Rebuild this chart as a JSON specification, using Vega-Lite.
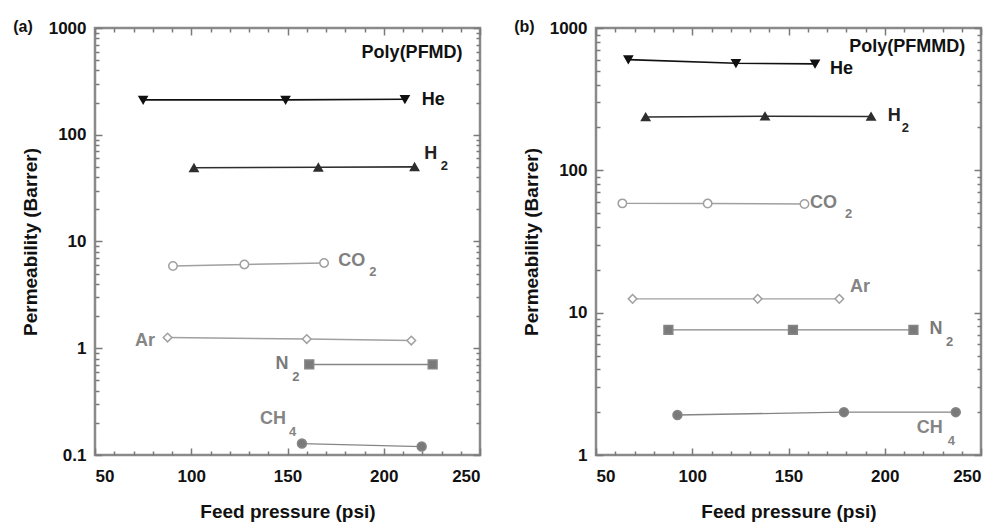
{
  "$schema": "https://vega.github.io/schema/vega-lite/v6.json",
  "background": "white",
  "padding": {"left": 11, "top": 17, "right": 5, "bottom": 0},
  "spacing": 116,
  "bounds": "flush",
  "config": {
    "font": "Liberation Sans",
    "view": {"stroke": "#8a8a8a", "strokeWidth": 2.5},
    "axis": {"labelFont": "Liberation Sans", "labelFontWeight": "bold", "labelFontSize": 17, "labelColor": "#111", "titleFont": "Liberation Sans", "titleFontWeight": "bold", "titleFontSize": 19, "titleColor": "#111", "tickColor": "#7a7a7a", "tickWidth": 1.5, "domain": false, "grid": false},
    "text": {"font": "Liberation Sans", "fontWeight": "bold"}
  },
  "datasets": {
    "a_pts": [
      {"gas": "He", "p": 75, "perm": 212}, {"gas": "He", "p": 149, "perm": 212}, {"gas": "He", "p": 211, "perm": 215},
      {"gas": "H2", "p": 101.4, "perm": 49}, {"gas": "H2", "p": 166, "perm": 49.5}, {"gas": "H2", "p": 216, "perm": 50},
      {"gas": "CO2", "p": 90.5, "perm": 5.9}, {"gas": "CO2", "p": 127.6, "perm": 6.1}, {"gas": "CO2", "p": 169, "perm": 6.3},
      {"gas": "Ar", "p": 87.7, "perm": 1.26}, {"gas": "Ar", "p": 160, "perm": 1.22}, {"gas": "Ar", "p": 214.3, "perm": 1.18},
      {"gas": "N2", "p": 161.3, "perm": 0.705}, {"gas": "N2", "p": 225.4, "perm": 0.705},
      {"gas": "CH4", "p": 157.5, "perm": 0.128}, {"gas": "CH4", "p": 219.7, "perm": 0.12}
    ],
    "b_pts": [
      {"gas": "He", "p": 66.8, "perm": 600}, {"gas": "He", "p": 122.7, "perm": 565}, {"gas": "He", "p": 163.8, "perm": 560},
      {"gas": "H2", "p": 75.8, "perm": 237}, {"gas": "H2", "p": 137.8, "perm": 240}, {"gas": "H2", "p": 192.9, "perm": 239},
      {"gas": "CO2", "p": 63.7, "perm": 58.6}, {"gas": "CO2", "p": 108, "perm": 58.4}, {"gas": "CO2", "p": 158.3, "perm": 58},
      {"gas": "Ar", "p": 69, "perm": 12.5}, {"gas": "Ar", "p": 134, "perm": 12.5}, {"gas": "Ar", "p": 176.4, "perm": 12.5},
      {"gas": "N2", "p": 87.6, "perm": 7.57}, {"gas": "N2", "p": 152.3, "perm": 7.57}, {"gas": "N2", "p": 214.9, "perm": 7.57},
      {"gas": "CH4", "p": 92.3, "perm": 1.91}, {"gas": "CH4", "p": 178.8, "perm": 2.0}, {"gas": "CH4", "p": 236.9, "perm": 2.0}
    ],
    "a_lab": [
      {"gas": "Poly", "p": 188.5, "perm": 583, "label": "Poly(PFMD)"},
      {"gas": "He", "p": 219.7, "perm": 213, "label": "He"},
      {"gas": "H2", "p": 221, "perm": 65.5, "label": "H"},
      {"gas": "CO2", "p": 176.4, "perm": 6.6, "label": "CO"},
      {"gas": "Ar", "p": 70.8, "perm": 1.18, "label": "Ar"},
      {"gas": "N2", "p": 143.8, "perm": 0.705, "label": "N"},
      {"gas": "CH4", "p": 135.7, "perm": 0.218, "label": "CH"}
    ],
    "a_sub": [
      {"gas": "H2", "p": 229.6, "perm": 51, "label": "2"},
      {"gas": "CO2", "p": 192.5, "perm": 5.13, "label": "2"},
      {"gas": "N2", "p": 152.5, "perm": 0.543, "label": "2"},
      {"gas": "CH4", "p": 150.8, "perm": 0.164, "label": "4"}
    ],
    "b_lab": [
      {"gas": "Poly", "p": 181.6, "perm": 733, "label": "Poly(PFMMD)"},
      {"gas": "He", "p": 171.6, "perm": 514, "label": "He"},
      {"gas": "H2", "p": 201.5, "perm": 239, "label": "H"},
      {"gas": "CO2", "p": 161.2, "perm": 58.6, "label": "CO"},
      {"gas": "Ar", "p": 182, "perm": 15.2, "label": "Ar"},
      {"gas": "N2", "p": 223.2, "perm": 7.62, "label": "N"},
      {"gas": "CH4", "p": 216.6, "perm": 1.54, "label": "CH"}
    ],
    "b_sub": [
      {"gas": "H2", "p": 208.8, "perm": 198, "label": "2"},
      {"gas": "CO2", "p": 179.4, "perm": 49.2, "label": "2"},
      {"gas": "N2", "p": 231.8, "perm": 6.27, "label": "2"},
      {"gas": "CH4", "p": 232.7, "perm": 1.26, "label": "4"}
    ]
  },
  "hconcat": [
    {
      "width": 385, "height": 427,
      "title": {"text": "(a)", "anchor": "start", "frame": "bounds", "offset": -16, "dx": -8, "fontSize": 16, "fontWeight": "bold", "font": "Liberation Sans", "color": "#111"},
      "resolve": {"axis": {"x": "independent", "y": "independent"}},
      "layer": [
        {
          "data": {"name": "a_pts"},
          "mark": {"type": "line"},
          "encoding": {
            "x": {"field": "p", "type": "quantitative", "scale": {"domain": [50, 250], "nice": false}, "axis": {"orient": "bottom", "values": [50, 100, 150, 200, 250], "tickSize": -7, "labelPadding": 20, "title": "Feed pressure (psi)", "titlePadding": 18}},
            "y": {"field": "perm", "type": "quantitative", "scale": {"type": "log", "domain": [0.1, 1000], "nice": false}, "axis": {"orient": "left", "values": [0.1, 1, 10, 100, 1000], "format": "~g", "tickSize": -7, "labelPadding": 16, "title": "Permeability (Barrer)", "titlePadding": 8}},
            "detail": {"field": "gas"},
            "stroke": {"field": "gas", "type": "nominal", "legend": null, "scale": {"domain": ["He", "H2", "CO2", "Ar", "N2", "CH4"], "range": ["#111111", "#2e2e2e", "#a0a0a0", "#a0a0a0", "#858585", "#858585"]}},
            "strokeWidth": {"field": "gas", "type": "nominal", "legend": null, "scale": {"domain": ["He", "H2", "CO2", "Ar", "N2", "CH4"], "range": [1.6, 1.3, 2.2, 1.3, 2.8, 2.2]}}
          }
        },
        {
          "data": {"name": "a_pts"},
          "mark": {"type": "point", "opacity": 1, "strokeWidth": 1.5},
          "encoding": {
            "x": {"field": "p", "type": "quantitative", "scale": {"domain": [50, 250], "nice": false}, "axis": {"orient": "bottom", "values": [60, 70, 80, 90, 110, 120, 130, 140, 160, 170, 180, 190, 210, 220, 230, 240], "tickSize": -4, "labels": false, "title": null}},
            "y": {"field": "perm", "type": "quantitative", "scale": {"type": "log", "domain": [0.1, 1000], "nice": false}, "axis": {"orient": "left", "values": [0.2, 0.3, 0.4, 0.5, 0.6, 0.7, 0.8, 0.9, 2, 3, 4, 5, 6, 7, 8, 9, 20, 30, 40, 50, 60, 70, 80, 90, 200, 300, 400, 500, 600, 700, 800, 900], "tickSize": -4, "labels": false, "title": null}},
            "shape": {"field": "gas", "type": "nominal", "legend": null, "scale": {"domain": ["He", "H2", "CO2", "Ar", "N2", "CH4"], "range": ["triangle-down", "triangle-up", "circle", "diamond", "square", "circle"]}},
            "fill": {"field": "gas", "type": "nominal", "legend": null, "scale": {"domain": ["He", "H2", "CO2", "Ar", "N2", "CH4"], "range": ["#111111", "#2e2e2e", "#ffffff", "#ffffff", "#7a7a7a", "#7a7a7a"]}},
            "stroke": {"field": "gas", "type": "nominal", "legend": null, "scale": {"domain": ["He", "H2", "CO2", "Ar", "N2", "CH4"], "range": ["#111111", "#2e2e2e", "#a0a0a0", "#a0a0a0", "#858585", "#858585"]}},
            "size": {"field": "gas", "type": "nominal", "legend": null, "scale": {"domain": ["He", "H2", "CO2", "Ar", "N2", "CH4"], "range": [65, 80, 95, 60, 120, 115]}}
          }
        },
        {
          "data": {"name": "a_lab"},
          "mark": {"type": "text", "align": "left", "baseline": "middle", "fontSize": 18},
          "encoding": {
            "x": {"field": "p", "type": "quantitative", "scale": {"domain": [50, 250], "nice": false}, "axis": {"orient": "top", "values": [50, 100, 150, 200, 250], "tickSize": -7, "labels": false, "title": null}},
            "y": {"field": "perm", "type": "quantitative", "scale": {"type": "log", "domain": [0.1, 1000], "nice": false}, "axis": {"orient": "right", "values": [0.1, 1, 10, 100, 1000], "tickSize": -7, "labels": false, "title": null}},
            "text": {"field": "label"},
            "color": {"field": "gas", "type": "nominal", "legend": null, "scale": {"domain": ["Poly", "He", "H2", "CO2", "Ar", "N2", "CH4"], "range": ["#111111", "#111111", "#222222", "#808080", "#858585", "#7a7a7a", "#858585"]}}
          }
        },
        {
          "data": {"name": "a_sub"},
          "mark": {"type": "text", "align": "left", "baseline": "middle", "fontSize": 13},
          "encoding": {
            "x": {"field": "p", "type": "quantitative", "scale": {"domain": [50, 250], "nice": false}, "axis": {"orient": "top", "values": [60, 70, 80, 90, 110, 120, 130, 140, 160, 170, 180, 190, 210, 220, 230, 240], "tickSize": -4, "labels": false, "title": null}},
            "y": {"field": "perm", "type": "quantitative", "scale": {"type": "log", "domain": [0.1, 1000], "nice": false}, "axis": {"orient": "right", "values": [0.2, 0.3, 0.4, 0.5, 0.6, 0.7, 0.8, 0.9, 2, 3, 4, 5, 6, 7, 8, 9, 20, 30, 40, 50, 60, 70, 80, 90, 200, 300, 400, 500, 600, 700, 800, 900], "tickSize": -4, "labels": false, "title": null}},
            "text": {"field": "label"},
            "color": {"field": "gas", "type": "nominal", "legend": null, "scale": {"domain": ["Poly", "He", "H2", "CO2", "Ar", "N2", "CH4"], "range": ["#111111", "#111111", "#222222", "#808080", "#858585", "#7a7a7a", "#858585"]}}
          }
        }
      ]
    },
    {
      "width": 385, "height": 427,
      "title": {"text": "(b)", "anchor": "start", "frame": "bounds", "offset": -16, "dx": -8, "fontSize": 16, "fontWeight": "bold", "font": "Liberation Sans", "color": "#111"},
      "resolve": {"axis": {"x": "independent", "y": "independent"}},
      "layer": [
        {
          "data": {"name": "b_pts"},
          "mark": {"type": "line"},
          "encoding": {
            "x": {"field": "p", "type": "quantitative", "scale": {"domain": [50, 250], "nice": false}, "axis": {"orient": "bottom", "values": [50, 100, 150, 200, 250], "tickSize": -7, "labelPadding": 20, "title": "Feed pressure (psi)", "titlePadding": 18}},
            "y": {"field": "perm", "type": "quantitative", "scale": {"type": "log", "domain": [1, 1000], "nice": false}, "axis": {"orient": "left", "values": [1, 10, 100, 1000], "format": "~g", "tickSize": -7, "labelPadding": 16, "title": "Permeability (Barrer)", "titlePadding": 8}},
            "detail": {"field": "gas"},
            "stroke": {"field": "gas", "type": "nominal", "legend": null, "scale": {"domain": ["He", "H2", "CO2", "Ar", "N2", "CH4"], "range": ["#111111", "#2e2e2e", "#a0a0a0", "#a0a0a0", "#858585", "#858585"]}},
            "strokeWidth": {"field": "gas", "type": "nominal", "legend": null, "scale": {"domain": ["He", "H2", "CO2", "Ar", "N2", "CH4"], "range": [1.6, 1.3, 2.2, 1.3, 2.8, 2.2]}}
          }
        },
        {
          "data": {"name": "b_pts"},
          "mark": {"type": "point", "opacity": 1, "strokeWidth": 1.5},
          "encoding": {
            "x": {"field": "p", "type": "quantitative", "scale": {"domain": [50, 250], "nice": false}, "axis": {"orient": "bottom", "values": [60, 70, 80, 90, 110, 120, 130, 140, 160, 170, 180, 190, 210, 220, 230, 240], "tickSize": -4, "labels": false, "title": null}},
            "y": {"field": "perm", "type": "quantitative", "scale": {"type": "log", "domain": [1, 1000], "nice": false}, "axis": {"orient": "left", "values": [2, 3, 4, 5, 6, 7, 8, 9, 20, 30, 40, 50, 60, 70, 80, 90, 200, 300, 400, 500, 600, 700, 800, 900], "tickSize": -4, "labels": false, "title": null}},
            "shape": {"field": "gas", "type": "nominal", "legend": null, "scale": {"domain": ["He", "H2", "CO2", "Ar", "N2", "CH4"], "range": ["triangle-down", "triangle-up", "circle", "diamond", "square", "circle"]}},
            "fill": {"field": "gas", "type": "nominal", "legend": null, "scale": {"domain": ["He", "H2", "CO2", "Ar", "N2", "CH4"], "range": ["#111111", "#2e2e2e", "#ffffff", "#ffffff", "#7a7a7a", "#7a7a7a"]}},
            "stroke": {"field": "gas", "type": "nominal", "legend": null, "scale": {"domain": ["He", "H2", "CO2", "Ar", "N2", "CH4"], "range": ["#111111", "#2e2e2e", "#a0a0a0", "#a0a0a0", "#858585", "#858585"]}},
            "size": {"field": "gas", "type": "nominal", "legend": null, "scale": {"domain": ["He", "H2", "CO2", "Ar", "N2", "CH4"], "range": [65, 80, 95, 60, 120, 115]}}
          }
        },
        {
          "data": {"name": "b_lab"},
          "mark": {"type": "text", "align": "left", "baseline": "middle", "fontSize": 18},
          "encoding": {
            "x": {"field": "p", "type": "quantitative", "scale": {"domain": [50, 250], "nice": false}, "axis": {"orient": "top", "values": [50, 100, 150, 200, 250], "tickSize": -7, "labels": false, "title": null}},
            "y": {"field": "perm", "type": "quantitative", "scale": {"type": "log", "domain": [1, 1000], "nice": false}, "axis": {"orient": "right", "values": [1, 10, 100, 1000], "tickSize": -7, "labels": false, "title": null}},
            "text": {"field": "label"},
            "color": {"field": "gas", "type": "nominal", "legend": null, "scale": {"domain": ["Poly", "He", "H2", "CO2", "Ar", "N2", "CH4"], "range": ["#111111", "#111111", "#222222", "#808080", "#858585", "#7a7a7a", "#858585"]}}
          }
        },
        {
          "data": {"name": "b_sub"},
          "mark": {"type": "text", "align": "left", "baseline": "middle", "fontSize": 13},
          "encoding": {
            "x": {"field": "p", "type": "quantitative", "scale": {"domain": [50, 250], "nice": false}, "axis": {"orient": "top", "values": [60, 70, 80, 90, 110, 120, 130, 140, 160, 170, 180, 190, 210, 220, 230, 240], "tickSize": -4, "labels": false, "title": null}},
            "y": {"field": "perm", "type": "quantitative", "scale": {"type": "log", "domain": [1, 1000], "nice": false}, "axis": {"orient": "right", "values": [2, 3, 4, 5, 6, 7, 8, 9, 20, 30, 40, 50, 60, 70, 80, 90, 200, 300, 400, 500, 600, 700, 800, 900], "tickSize": -4, "labels": false, "title": null}},
            "text": {"field": "label"},
            "color": {"field": "gas", "type": "nominal", "legend": null, "scale": {"domain": ["Poly", "He", "H2", "CO2", "Ar", "N2", "CH4"], "range": ["#111111", "#111111", "#222222", "#808080", "#858585", "#7a7a7a", "#858585"]}}
          }
        }
      ]
    }
  ]
}
